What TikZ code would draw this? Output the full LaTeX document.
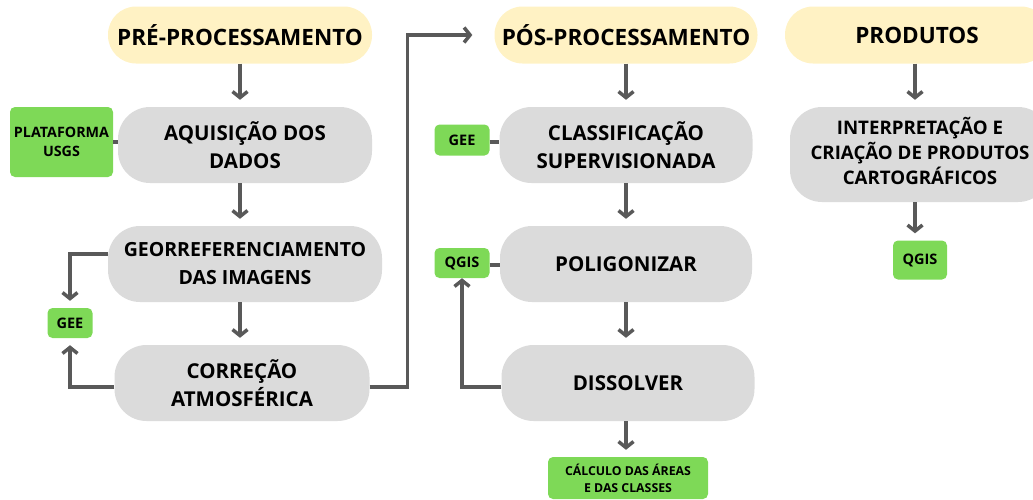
\documentclass[tikz,border=0pt]{standalone}
\usepackage{fontspec}
\setmainfont{Open Sans}
\usetikzlibrary{arrows.meta}
\definecolor{amarelo}{HTML}{FFF2C4}
\definecolor{cinza}{HTML}{DBDBDB}
\definecolor{verde}{HTML}{7ED957}
\definecolor{seta}{HTML}{595959}
\begin{document}
\begin{tikzpicture}[x=1pt,y=-1pt,
  titulo/.style={fill=amarelo,rounded corners=28pt,inner sep=0pt,minimum height=57pt,font=\fontsize{22.5}{26}\selectfont\bfseries},
  etapa/.style={fill=cinza,rounded corners=32pt,inner sep=0pt,minimum height=76pt,align=center,font=\fontsize{20.5}{28}\selectfont\bfseries},
  ferramenta/.style={fill=verde,rounded corners=5pt,inner sep=0pt,align=center,font=\fontsize{14.5}{19}\selectfont\bfseries},
  fluxo/.style={draw=seta,line width=3.5pt,-{Straight Barb[length=6pt,width=15pt]},shorten >=7pt},
  liga/.style={draw=seta,line width=3.5pt}]

\clip (0,0) rectangle (1033,499);

\node [titulo,minimum width=264pt] (pre) at (240,35) {PRÉ-PROCESSAMENTO};
\node [etapa,minimum width=254pt] (aquis) at (245,145) {AQUISIÇÃO DOS\\DADOS};
\node [ferramenta,minimum width=103pt,minimum height=70pt,font=\fontsize{14.3}{19}\selectfont\bfseries] (plat) at (61.5,142) {PLATAFORMA\\USGS};
\node [etapa,minimum width=274pt,font=\fontsize{19.5}{28}\selectfont\bfseries] (georr) at (245,264) {GEORREFERENCIAMENTO\\DAS IMAGENS};
\node [etapa,minimum width=255pt] (corr) at (242,383) {CORREÇÃO\\ATMOSFÉRICA};
\node [ferramenta,minimum width=45pt,minimum height=30pt] (geeA) at (70,323) {GEE};

\node [titulo,minimum width=263pt] (pos) at (626,35) {PÓS-PROCESSAMENTO};
\node [etapa,minimum width=253pt] (classif) at (626,145) {CLASSIFICAÇÃO\\SUPERVISIONADA};
\node [ferramenta,minimum width=55pt,minimum height=31pt] (geeB) at (462,140) {GEE};
\node [etapa,minimum width=252pt] (polig) at (626,264) {POLIGONIZAR};
\node [ferramenta,minimum width=55pt,minimum height=30pt] (qgisB) at (462,263) {QGIS};
\node [etapa,minimum width=253pt] (diss) at (628,383) {DISSOLVER};
\node [ferramenta,minimum width=160pt,minimum height=42pt,font=\fontsize{12.3}{17}\selectfont\bfseries] (calc) at (628,478) {CÁLCULO DAS ÁREAS\\E DAS CLASSES};

\node [titulo,minimum width=264pt] (prod) at (917,35) {PRODUTOS};
\node [etapa,minimum width=260pt,minimum height=95pt,font=\fontsize{18.7}{25}\selectfont\bfseries] (interp) at (920,154.5) {INTERPRETAÇÃO E\\CRIAÇÃO DE PRODUTOS\\CARTOGRÁFICOS\rule[-8pt]{0pt}{8pt}};
\node [ferramenta,minimum width=54pt,minimum height=39pt] (qgisC) at (920,260) {QGIS};

\draw [fluxo] (pre.south) -- (aquis.north -| pre.south);
\draw [fluxo] (aquis.south -| pre.south) -- (georr.north -| pre.south);
\draw [fluxo] (georr.south -| pre.south) -- (corr.north -| pre.south);
\draw [liga] (plat.east) -- (plat.east -| aquis.west);
\draw [fluxo] ([yshift=10pt]georr.west) -| (geeA.north);
\draw [fluxo] ([yshift=-4pt]corr.west) -| (geeA.south);
\draw [fluxo,shorten >=22pt] ([yshift=-4pt]corr.east) -- ++(38,0) |- (pos.west);

\draw [fluxo] (pos.south) -- (classif.north -| pos.south);
\draw [fluxo] (classif.south -| pos.south) -- (polig.north -| pos.south);
\draw [fluxo] (polig.south -| pos.south) -- (diss.north -| pos.south);
\draw [fluxo] (diss.south -| pos.south) -- (calc.north -| pos.south);
\draw [liga] ([yshift=-2pt]geeB.east) -- ([yshift=-2pt]geeB.east -| classif.west);
\draw [liga] ([yshift=-2pt]qgisB.east) -- ([yshift=-2pt]qgisB.east -| polig.west);
\draw [fluxo,shorten >=0pt] ([yshift=-4pt]diss.west) -| (qgisB.south);

\draw [fluxo] (prod.south -| qgisC.north) ++(-5,0) -- ([xshift=-5pt]interp.north |- interp.north);
\draw [fluxo] ([xshift=-5pt]interp.south) -- ([xshift=-5pt]qgisC.north);

\end{tikzpicture}
\end{document}
